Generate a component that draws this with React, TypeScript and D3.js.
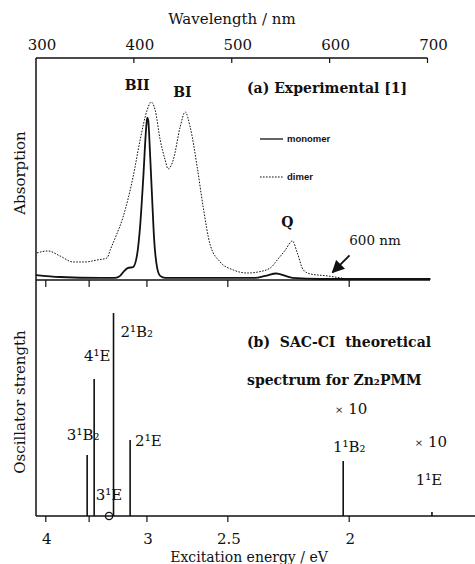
import * as d3 from "d3";

// wavelength (nm) vs. absorption (arbitrary, 0..1)
const monomerWl = [300, 324.6, 365.5, 380.8, 385.9, 390, 394.1, 399.2, 403.3, 406.4, 409.5, 412.5, 413.6, 414.6, 416.6, 418.7, 420.7, 423.8, 426.9, 432, 508.7, 524, 534.3, 545.5, 554.7, 561.9, 590.5, 703];
const monomerAbs = [0.018, 0.009, 0.005, 0.005, 0.014, 0.036, 0.05, 0.054, 0.11, 0.24, 0.45, 0.68, 0.73, 0.72, 0.56, 0.36, 0.18, 0.05, 0.014, 0.005, 0.005, 0.005, 0.014, 0.025, 0.014, 0.005, 0, 0];

const dimerWl = [301, 312.3, 324.6, 337.9, 350.1, 362.4, 372.6, 375.7, 381.8, 389, 399.2, 406.4, 413.6, 417.6, 421.7, 426.9, 432, 435, 440.2, 447.3, 452.4, 457.5, 464.7, 470.8, 478, 488.2, 501.5, 515.9, 527.1, 539.4, 546.5, 554.7, 561.9, 567, 573.1, 580.3, 597.7, 611, 618.2];
const dimerAbs = [0.118, 0.127, 0.104, 0.077, 0.077, 0.086, 0.095, 0.13, 0.195, 0.281, 0.462, 0.629, 0.765, 0.801, 0.765, 0.629, 0.538, 0.498, 0.538, 0.688, 0.756, 0.688, 0.507, 0.326, 0.154, 0.077, 0.041, 0.027, 0.032, 0.05, 0.086, 0.131, 0.172, 0.118, 0.041, 0.023, 0.014, 0.005, 0];

// SAC-CI states: excitation energy (eV), oscillator strength (scaled)
const stateNames = ["3¹B₂", "4¹E", "3¹E", "2¹B₂", "2¹E", "1¹B₂", "1¹E"];
const stateEnergy = [3.52, 3.45, 3.31, 3.27, 3.13, 2.02, 1.76];
const stateStrength = [0.61, 1.37, 0, 2.03, 0.76, 0.55, 0.04];
const stateScaled = [false, false, false, false, false, true, true];

const wavelengthTicks = [300, 400, 500, 600, 700];
const energyTicks = [4, 3.5, 3, 2.5, 2];
const energyTickLabels = ["4", "", "3", "2.5", "2"];

const bandNames = ["BII", "BI", "Q"];
const bandWl = [403.3, 449.5, 556.8];
const bandAbs = [0.855, 0.825, 0.235];

// label placement for the state labels (dx, dy from stick top, anchor)
const stateLabelLayout = [
  { dx: -4, dy: -15, anchor: "middle" },
  { dx: 3, dy: -18, anchor: "middle" },
  { dx: 0, dy: -16, anchor: "middle" },
  { dx: 7, dy: 24, anchor: "start" },
  { dx: 5, dy: 6, anchor: "start" },
  { dx: 6, dy: -9, anchor: "middle" },
  { dx: -3, dy: -27, anchor: "middle" },
];

const serif = "DejaVu Serif";
const ink = "#111";

export default function App() {
  const left = 36;
  const topY = 58;
  const midY = 280;
  const botY = 516;

  const x = d3.scaleLinear().domain([300, 700]).range([left, 427.5]);
  const xE = (e: number) => x(1240 / e);
  const yA = d3.scaleLinear().domain([0, 1]).range([midY - 1, topY]);
  const yF = d3.scaleLinear().domain([0, 2.33]).range([botY, 283]);

  const monoPath = d3
    .line<number>()
    .x((d) => x(d))
    .y((_, i) => yA(monomerAbs[i]))
    .curve(d3.curveMonotoneX)(monomerWl);
  const dimerPath = d3
    .line<number>()
    .x((d) => x(d))
    .y((_, i) => yA(dimerAbs[i]))
    .curve(d3.curveMonotoneX)(dimerWl);

  const arrowTip = { x: x(604) - 1, y: yA(0.03) };

  return (
    <svg
      width={475}
      height={564}
      style={{ position: "absolute", left: 0, top: 0, background: "#fff" }}
      fontFamily={serif}
      fill={ink}
    >
      <defs>
        <marker id="ah" viewBox="0 0 10 10" refX="9" refY="5" markerWidth="7" markerHeight="7" orient="auto">
          <path d="M0,0 L10,5 L0,10 z" fill={ink} />
        </marker>
      </defs>

      {/* top wavelength axis */}
      <text x={232} y={24} fontSize={15} textAnchor="middle">Wavelength / nm</text>
      <line x1={left} x2={x(700)} y1={topY} y2={topY} stroke={ink} strokeWidth={1.5} />
      {wavelengthTicks.map((t) => (
        <g key={t}>
          {t > 300 && <line x1={x(t)} x2={x(t)} y1={topY} y2={topY + 5} stroke={ink} strokeWidth={1.2} />}
          <text x={x(t) + 6} y={50} fontSize={15} textAnchor="middle">{t}</text>
        </g>
      ))}

      {/* left axis */}
      <line x1={left} x2={left} y1={topY} y2={botY} stroke={ink} strokeWidth={1.5} />

      {/* middle baseline with energy ticks */}
      <line x1={left} x2={430} y1={midY} y2={midY} stroke={ink} strokeWidth={1.5} />
      {energyTicks.map((e) => (
        <line key={e} x1={xE(e)} x2={xE(e)} y1={midY} y2={midY + 7} stroke={ink} strokeWidth={1.2} />
      ))}

      {/* spectra */}
      <path d={dimerPath ?? ""} fill="none" stroke={ink} strokeWidth={1} strokeDasharray="1.6,1.4" />
      <path d={monoPath ?? ""} fill="none" stroke={ink} strokeWidth={1.8} />

      {bandNames.map((b, i) => (
        <text key={b} x={x(bandWl[i])} y={yA(bandAbs[i])} fontSize={14} fontWeight="600" textAnchor="middle">
          {b}
        </text>
      ))}

      <text x={375} y={245} fontSize={13.5} textAnchor="middle">600 nm</text>
      <line x1={arrowTip.x + 17} y1={arrowTip.y - 17} x2={arrowTip.x} y2={arrowTip.y} stroke={ink} strokeWidth={1.8} markerEnd="url(#ah)" />

      <text x={247} y={93} fontSize={14} fontWeight="bold">(a) Experimental [1]</text>

      {/* legend */}
      <line x1={260} x2={283} y1={139} y2={139} stroke={ink} strokeWidth={1.3} />
      <text x={287} y={142} fontSize={9.5} fontFamily="Liberation Sans" fontWeight="bold">monomer</text>
      <line x1={260} x2={283} y1={177} y2={177} stroke={ink} strokeWidth={1} strokeDasharray="1.6,1.4" />
      <text x={287} y={180} fontSize={9.5} fontFamily="Liberation Sans" fontWeight="bold">dimer</text>

      <text transform="translate(25,173) rotate(-90)" fontSize={15} textAnchor="middle">Absorption</text>

      {/* lower panel */}
      <text transform="translate(25,402) rotate(-90)" fontSize={15} textAnchor="middle">Oscillator strength</text>

      <text x={247} y={347} fontSize={14} fontWeight="bold" style={{ whiteSpace: "pre" }}>(b)  SAC-CI  theoretical</text>
      <text x={247} y={385} fontSize={14} fontWeight="bold">spectrum for Zn₂PMM</text>

      {stateNames.map((s, i) => {
        const sx = xE(stateEnergy[i]);
        const sy = yF(stateStrength[i]);
        const lay = stateLabelLayout[i];
        return (
          <g key={s}>
            {stateStrength[i] > 0 ? (
              <line x1={sx} x2={sx} y1={botY} y2={sy} stroke={ink} strokeWidth={1.6} />
            ) : (
              <circle cx={sx} cy={botY} r={3.6} fill="#fff" stroke={ink} strokeWidth={1.3} />
            )}
            <text x={sx + lay.dx} y={sy + lay.dy} fontSize={15} textAnchor={lay.anchor}>{s}</text>
            {stateScaled[i] && (
              <text x={sx + lay.dx + 2} y={sy + lay.dy - 38} fontSize={15} textAnchor="middle">
                <tspan fontSize={10} dy={-1}>×</tspan>
                <tspan dy={1}> 10</tspan>
              </text>
            )}
          </g>
        );
      })}

      {/* bottom energy axis */}
      <line x1={left} x2={475} y1={botY} y2={botY} stroke={ink} strokeWidth={1.5} />
      {energyTicks.map((e, i) => (
        <g key={e}>
          <line x1={xE(e)} x2={xE(e)} y1={botY} y2={botY + 6} stroke={ink} strokeWidth={1.2} />
          <text x={xE(e) + 1} y={544} fontSize={15} textAnchor="middle">{energyTickLabels[i]}</text>
        </g>
      ))}
      <text x={249} y={562} fontSize={14} textAnchor="middle">Excitation energy / eV</text>
    </svg>
  );
}
